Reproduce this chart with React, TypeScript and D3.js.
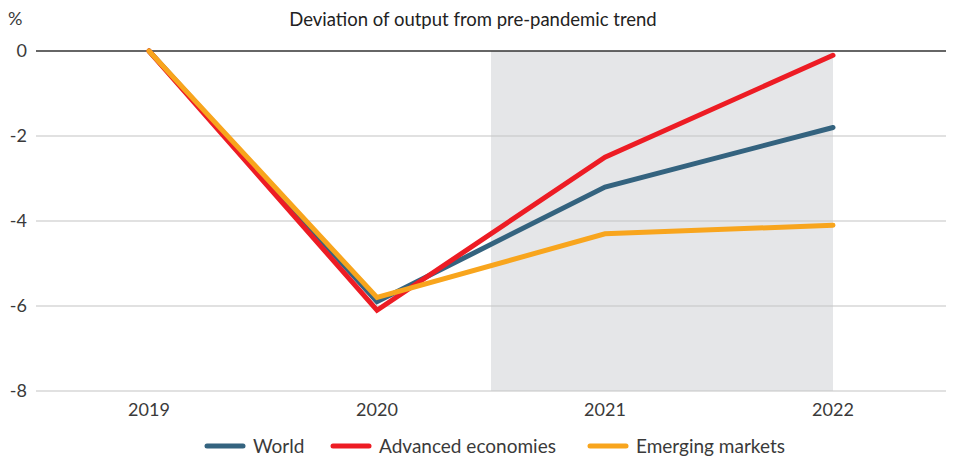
import React from "react";
import * as d3 from "d3";

const years = ["2019", "2020", "2021", "2022"];
const world = [0, -5.9, -3.2, -1.8];
const advanced = [0, -6.1, -2.5, -0.1];
const emerging = [0, -5.8, -4.3, -4.1];
const yTicks = [0, -2, -4, -6, -8];
const seriesNames = ["World", "Advanced economies", "Emerging markets"];
const colors = ["#34637f", "#ed1c24", "#f8a51d"];

const W = 954;
const H = 459;
const FONT = "Lato, 'Open Sans', sans-serif";

export default function App() {
  const x = d3.scaleBand<string>().domain(years).range([35, 947]);
  const y = d3.scaleLinear().domain([-8, 0]).range([391, 51]);
  const cx = (d: string) => (x(d) as number) + x.bandwidth() / 2;
  const line = d3
    .line<number>()
    .x((_, i) => cx(years[i]))
    .y((v) => y(v));
  const series = [world, advanced, emerging];
  const shadeX0 = (cx("2020") + cx("2021")) / 2;
  const shadeX1 = cx("2022");
  const legendX = [207, 333, 590];

  return (
    <svg width={W} height={H} style={{ position: "absolute", left: 0, top: 0 }}>
      <rect x={0} y={0} width={W} height={H} fill="#fff" />
      <rect x={shadeX0} y={y(0)} width={shadeX1 - shadeX0} height={y(-8) - y(0)} fill="#e5e6e8" />
      {yTicks.map((t) => (
        <g key={t}>
          <line x1={36} x2={946} y1={y(t)} y2={y(t)} stroke={t === 0 ? "#333" : "#c4c4c4"} strokeWidth={t === 0 ? 1.3 : 1.2} />
          <text x={27} y={y(t)} dy="0.35em" textAnchor="end" fontFamily={FONT} fontSize={18} fill="#3a3a3a">
            {t}
          </text>
        </g>
      ))}
      <text x={8} y={25} fontFamily={FONT} fontSize={18} fill="#3a3a3a">%</text>
      <text x={473} y={26} textAnchor="middle" fontFamily={FONT} fontSize={18.5} fill="#222">
        Deviation of output from pre-pandemic trend
      </text>
      {years.map((yr) => (
        <text key={yr} x={cx(yr)} y={416} textAnchor="middle" fontFamily={FONT} fontSize={18} fill="#3a3a3a">
          {yr}
        </text>
      ))}
      {series.map((s, i) => (
        <path key={i} d={line(s) as string} fill="none" stroke={colors[i]} strokeWidth={5} strokeLinecap="round" strokeLinejoin="miter" />
      ))}
      {seriesNames.map((n, i) => (
        <g key={n}>
          <line x1={legendX[i]} x2={legendX[i] + 36} y1={446} y2={446} stroke={colors[i]} strokeWidth={5} strokeLinecap="round" />
          <text x={legendX[i] + 46} y={446} dy="0.35em" fontFamily={FONT} fontSize={19} fill="#3a3a3a">
            {n}
          </text>
        </g>
      ))}
    </svg>
  );
}
